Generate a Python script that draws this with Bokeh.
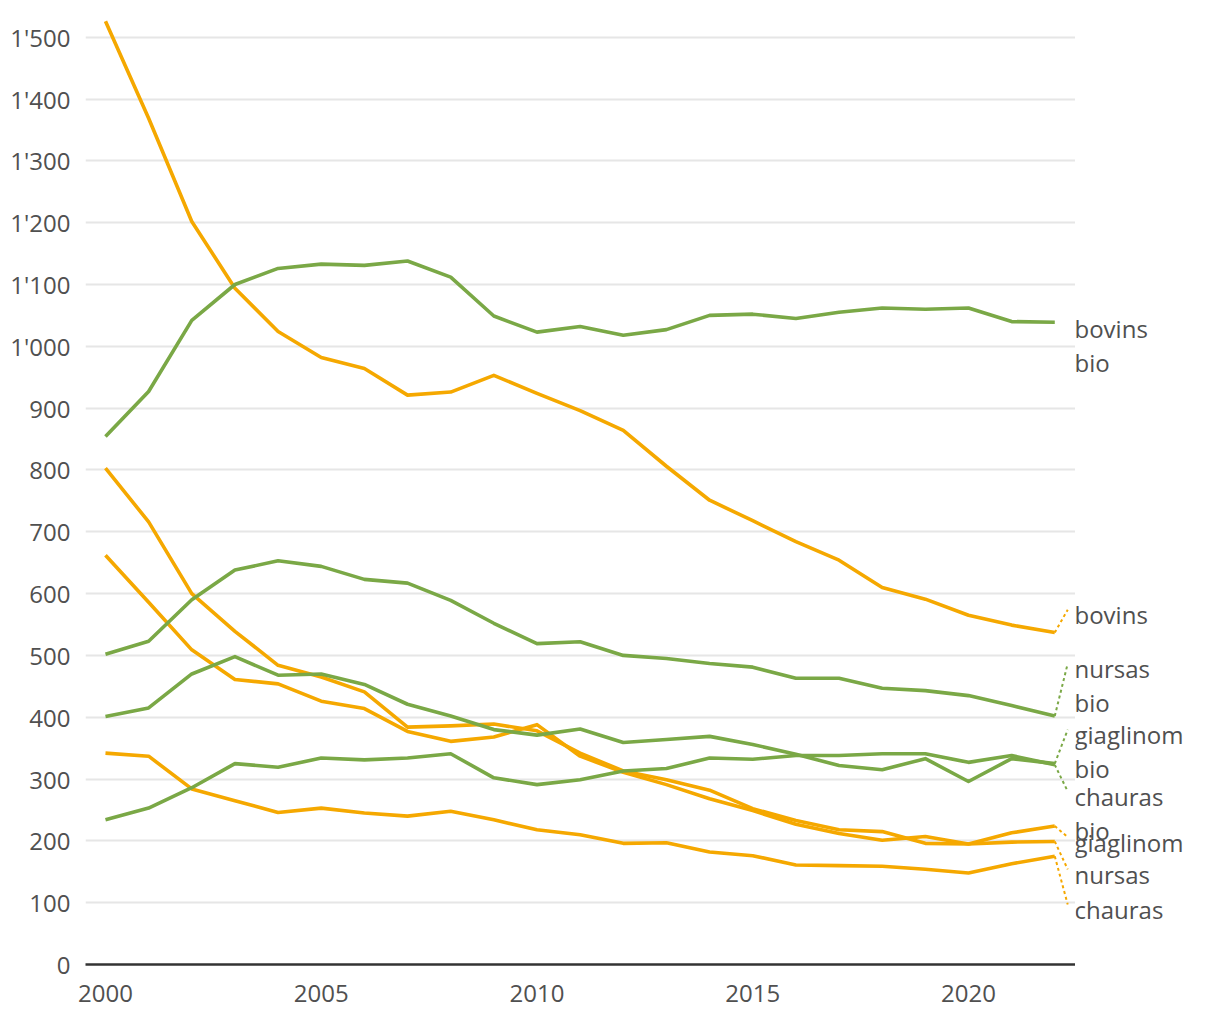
from bokeh.plotting import figure
from bokeh.models import Range1d, FixedTicker, Label
from bokeh.layouts import row
from bokeh.embed import file_html
from bokeh.resources import INLINE

years = list(range(2000, 2023))

# orange series (conventional)
bovins = [1526, 1369, 1202, 1094, 1024, 982, 964, 921, 926, 953, 924, 896, 864,
          806, 751, 718, 684, 654, 610, 591, 565, 549, 537]
nursas = [803, 716, 600, 539, 484, 465, 441, 384, 386, 389, 378, 342, 313,
          299, 282, 252, 233, 218, 215, 196, 195, 198, 199]
giaglinom = [662, 586, 509, 461, 454, 426, 414, 377, 361, 368, 388, 337, 311,
             291, 268, 249, 227, 212, 201, 207, 195, 213, 224]
chauras = [342, 337, 284, 265, 246, 253, 245, 240, 248, 234, 218, 210, 196,
           197, 182, 176, 161, 160, 159, 154, 148, 163, 175]

# green series (bio)
bovins_bio = [854, 927, 1042, 1100, 1126, 1133, 1131, 1138, 1112, 1049, 1023, 1032, 1018,
              1027, 1050, 1052, 1045, 1055, 1062, 1060, 1062, 1040, 1039]
nursas_bio = [502, 523, 590, 638, 653, 644, 623, 617, 589, 552, 519, 522, 500,
              495, 487, 481, 463, 463, 447, 443, 435, 419, 402]
giaglinom_bio = [401, 415, 470, 498, 468, 470, 453, 421, 402, 380, 371, 381, 359,
                 364, 369, 356, 340, 322, 315, 333, 296, 333, 325]
chauras_bio = [234, 253, 286, 325, 319, 334, 331, 334, 341, 302, 291, 299, 313,
               317, 334, 332, 338, 338, 341, 341, 327, 338, 323]

y_ticks = list(range(0, 1600, 100))
y_tick_labels = ["0", "100", "200", "300", "400", "500", "600", "700", "800", "900",
                 "1'000", "1'100", "1'200", "1'300", "1'400", "1'500"]
x_ticks = [2000, 2005, 2010, 2015, 2020]

ORANGE = "#f5a800"
GREEN = "#7aa846"
TEXT = "#505050"
FONT = "Open Sans"

# series: (values, label lines, label y of first line centre, data units)
orange_series = [
    (bovins, ["bovins"], 566),
    (giaglinom, ["giaglinom"], 198),
    (nursas, ["nursas"], 146),
    (chauras, ["chauras"], 89),
]
green_series = [
    (bovins_bio, ["bovins", "bio"], 1029),
    (nursas_bio, ["nursas", "bio"], 479),
    (giaglinom_bio, ["giaglinom", "bio"], 372),
    (chauras_bio, ["chauras", "bio"], 272),
]
LINE_STEP = 55  # data units between label lines

H = 1008
TOP = 12
BOTTOM = 44
y_range = Range1d(0, 1540)

p = figure(width=1075, height=H,
           x_range=Range1d(1999.537, 2022.48), y_range=y_range,
           output_backend="svg", toolbar_location=None,
           min_border_left=85, min_border_right=0, min_border_top=TOP, min_border_bottom=BOTTOM)
p.outline_line_color = None

p.xgrid.grid_line_color = None
p.ygrid.grid_line_color = "#e6e6e6"
p.ygrid.grid_line_width = 2
p.ygrid.ticker = FixedTicker(ticks=y_ticks)

p.yaxis.ticker = FixedTicker(ticks=y_ticks)
p.yaxis.major_label_overrides = {t: s for t, s in zip(y_ticks, y_tick_labels)}
p.yaxis.axis_line_color = None
p.yaxis.major_tick_line_color = None
p.yaxis.minor_tick_line_color = None
p.yaxis.major_label_standoff = 9
p.yaxis.major_label_text_font = FONT
p.yaxis.major_label_text_font_size = "24px"
p.yaxis.major_label_text_color = TEXT

p.xaxis.ticker = FixedTicker(ticks=x_ticks)
p.xaxis.axis_line_color = "#333333"
p.xaxis.axis_line_width = 2.5
p.xaxis.major_tick_line_color = None
p.xaxis.minor_tick_line_color = None
p.xaxis.major_label_standoff = 14
p.xaxis.major_label_text_font = FONT
p.xaxis.major_label_text_font_size = "24px"
p.xaxis.major_label_text_color = TEXT

# label panel to the right, sharing the y range
q = figure(width=135, height=H, x_range=Range1d(0, 1), y_range=y_range,
           output_backend="svg", toolbar_location=None,
           min_border_left=0, min_border_right=0, min_border_top=TOP, min_border_bottom=BOTTOM)
q.axis.visible = False
q.grid.grid_line_color = None
q.outline_line_color = None

last_x = years[-1]
lead_x = last_x + 0.3

for group, color in ((orange_series, ORANGE), (green_series, GREEN)):
    for vals, lines, ly in group:
        p.line(years, vals, line_color=color, line_width=3.6, line_join="round")
for group, color in ((orange_series, ORANGE), (green_series, GREEN)):
    for vals, lines, ly in group:
        end = vals[-1]
        lead_end = ly + 8
        if abs(lead_end - end) > 15:
            p.line([last_x, lead_x], [end, lead_end], line_color=color, line_width=2,
                   line_dash="3 3")
        for i, t in enumerate(lines):
            q.add_layout(Label(x=0, y=ly - i * LINE_STEP, text=t, x_offset=-1,
                               text_baseline="middle", text_align="left",
                               text_font=FONT, text_font_size="24px", text_color=TEXT))

layout = row(p, q, spacing=0)
open("out.html", "w").write(file_html(layout, INLINE))
